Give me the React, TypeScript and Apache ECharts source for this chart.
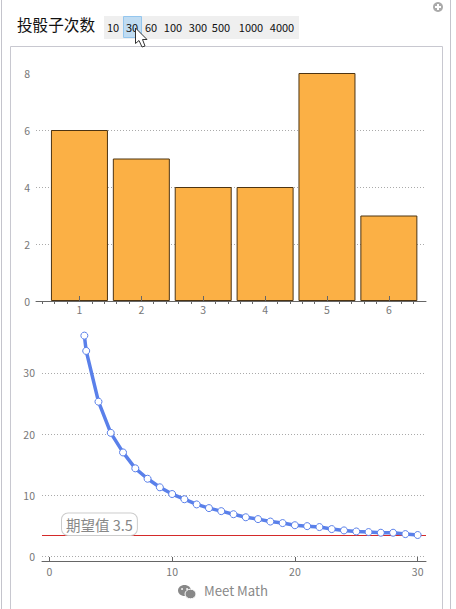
import React, { useEffect, useRef } from "react";
import * as echarts from "echarts";

const FONT = '"Noto Sans CJK SC", "Noto Sans", sans-serif';
const faces = [1, 2, 3, 4, 5, 6];
const counts = [6, 5, 4, 4, 8, 3];
const minorFaceTicks = [0.4, 0.6, 0.8, 1.2, 1.4, 1.6, 1.8, 2.2, 2.4, 2.6, 2.8, 3.2, 3.4, 3.6, 3.8, 4.2, 4.4, 4.6, 4.8, 5.2, 5.4, 5.6, 5.8, 6.2, 6.4];
const rollX = [2.85, 3, 4, 5, 6, 7, 8, 9, 10, 11, 12, 13, 14, 15, 16, 17, 18, 19, 20, 21, 22, 23, 24, 25, 26, 27, 28, 29, 30];
const rollY = [36.1, 33.6, 25.3, 20.2, 17, 14.4, 12.7, 11.3, 10.2, 9.35, 8.5, 7.9, 7.4, 6.9, 6.4, 6.1, 5.7, 5.45, 5.1, 4.95, 4.8, 4.47, 4.25, 4.08, 3.98, 3.87, 3.87, 3.65, 3.5];
const lineXTicks = [0, 10, 20, 30];
const lineYTicks = [0, 10, 20, 30];
const expected = 3.5;
const expectedLabel = "期望值 3.5";
const title = "投骰子次数";
const buttons = ["10", "30", "60", "100", "300", "500", "1000", "4000"];
const buttonCentres = [113, 132, 151, 173, 198, 221, 251, 282];

const axisGray = "#666";
const labelGray = "#777";

export default function App() {
  const ref = useRef<HTMLDivElement>(null);
  useEffect(() => {
    const chart = echarts.init(ref.current!, undefined, { renderer: "svg" });
    const dotted = { show: true, lineStyle: { color: "#aaa", type: [1, 2] as any, width: 1 } };
    chart.setOption({
      animation: false,
      backgroundColor: "#fff",
      grid: [
        { left: 36, right: 30, top: 73, height: 228 },
        { left: 42, right: 30, top: 324, height: 237 },
      ],
      xAxis: [
        {
          type: "value", gridIndex: 0, min: 0.298, max: 6.6, z: 5,
          axisLine: { show: true, onZero: false, lineStyle: { color: axisGray } },
          axisTick: { show: true, inside: true, length: 5, customValues: faces, lineStyle: { color: axisGray } },
          axisLabel: { customValues: faces, color: labelGray, fontSize: 10.5, fontFamily: FONT, margin: 3 },
          splitLine: { show: false },
        },
        {
          type: "value", gridIndex: 0, min: 0.298, max: 6.6, z: 5,
          axisLine: { show: false },
          axisTick: { show: true, inside: true, length: 3, customValues: minorFaceTicks, lineStyle: { color: axisGray } },
          axisLabel: { show: false },
          splitLine: { show: false },
        },
        {
          type: "value", gridIndex: 1, min: -0.6, max: 30.68, z: 5,
          axisLine: { show: true, onZero: false, lineStyle: { color: axisGray } },
          axisTick: { show: true, inside: true, length: 4, customValues: lineXTicks, lineStyle: { color: axisGray } },
          axisLabel: { customValues: lineXTicks, color: labelGray, fontSize: 10.5, fontFamily: FONT, margin: 5 },
          splitLine: { show: false },
        },
      ],
      yAxis: [
        {
          type: "value", gridIndex: 0, min: 0, max: 8, interval: 2,
          axisLine: { show: false }, axisTick: { show: false },
          axisLabel: { color: labelGray, fontSize: 10.5, fontFamily: FONT, margin: 6 },
          splitLine: { ...dotted, showMaxLine: false },
        },
        {
          type: "value", gridIndex: 1, min: -0.75, max: 38,
          axisLine: { show: false },
          axisTick: { show: false, customValues: lineYTicks },
          axisLabel: { customValues: lineYTicks, color: labelGray, fontSize: 10.5, fontFamily: FONT, margin: 7 },
          splitLine: dotted,
        },
      ],
      series: [
        {
          type: "bar", xAxisIndex: 0, yAxisIndex: 0, barWidth: 57,
          data: faces.map((f, i) => [f, counts[i]]),
          itemStyle: { color: "#FBB045", borderColor: "#4d3412", borderWidth: 1 },
        },
        {
          type: "line", xAxisIndex: 2, yAxisIndex: 1,
          data: rollX.map((x, i) => [x, rollY[i]]),
          symbol: "circle", symbolSize: 7,
          lineStyle: { color: "#5A80EA", width: 3.5 },
          itemStyle: { color: "#fff", borderColor: "#5A80EA", borderWidth: 1 },
          markLine: {
            silent: true, symbol: "none", z: 1,
            lineStyle: { color: "#d42a2a", type: "solid", width: 1 },
            data: [{ yAxis: expected }],
            label: {
              show: true, position: "insideStartTop", formatter: expectedLabel,
              color: "#888", fontSize: 14.5, fontFamily: FONT,
              backgroundColor: "#fff", borderColor: "#ccc", borderWidth: 1, borderRadius: 6,
              padding: [4, 4, 3, 4], distance: 0, offset: [20, 0],
            },
          },
        },
      ],
      graphic: [
        { type: "line", shape: { x1: 1.5, y1: 0, x2: 1.5, y2: 609 }, style: { stroke: "#c4c4cc", lineWidth: 1 } },
        { type: "line", shape: { x1: 450.5, y1: 0, x2: 450.5, y2: 609 }, style: { stroke: "#c4c4cc", lineWidth: 1 } },
        { type: "polyline", shape: { points: [[10.5, 609], [10.5, 46.5], [442.5, 46.5], [442.5, 609]] }, style: { stroke: "#c8c8d0", lineWidth: 1, fill: "none" } },
        { type: "circle", shape: { cx: 438, cy: 7, r: 5 }, style: { fill: "#aaa" } },
        { type: "rect", shape: { x: 435, y: 6, width: 6, height: 2 }, style: { fill: "#fff" } },
        { type: "rect", shape: { x: 437, y: 4, width: 2, height: 6 }, style: { fill: "#fff" } },
        { type: "text", x: 17, y: 16, style: { text: title, fill: "#111", font: `15.6px ${FONT}` } },
        { type: "rect", shape: { x: 104, y: 16, width: 195, height: 23 }, style: { fill: "#efefef" } },
        { type: "rect", shape: { x: 123.5, y: 16.5, width: 18, height: 21 }, style: { fill: "#c0dcf2", stroke: "#94c6ee", lineWidth: 1 } },
        ...buttons.map((b, i) => ({
          type: "text", x: buttonCentres[i], y: 27,
          style: { text: b, fill: "#111", font: `11px ${FONT}`, align: "center", verticalAlign: "middle" },
        })),
        {
          type: "polygon", z: 20,
          shape: { points: [[135.5, 28], [135.5, 43.5], [139, 40.5], [142, 47], [145, 46], [142.5, 39.5], [147, 39.5]] },
          style: { fill: "#fff", stroke: "#333", lineWidth: 1 },
        },
        { type: "ellipse", shape: { cx: 184.5, cy: 590.5, rx: 6.5, ry: 5.5 }, style: { fill: "#888" } },
        { type: "ellipse", shape: { cx: 190.5, cy: 594, rx: 5.5, ry: 4.8 }, style: { fill: "#888", stroke: "#fff", lineWidth: 1 } },
        { type: "circle", shape: { cx: 182, cy: 589, r: 0.9 }, style: { fill: "#fff" } },
        { type: "circle", shape: { cx: 187, cy: 589, r: 0.9 }, style: { fill: "#fff" } },
        { type: "text", x: 204, y: 590, style: { text: "Meet Math", fill: "#888", font: `13.2px ${FONT}`, verticalAlign: "middle" } },
      ],
    });
    return () => chart.dispose();
  }, []);
  return <div ref={ref} style={{ position: "fixed", left: 0, top: 0, width: 456, height: 609 }} />;
}
